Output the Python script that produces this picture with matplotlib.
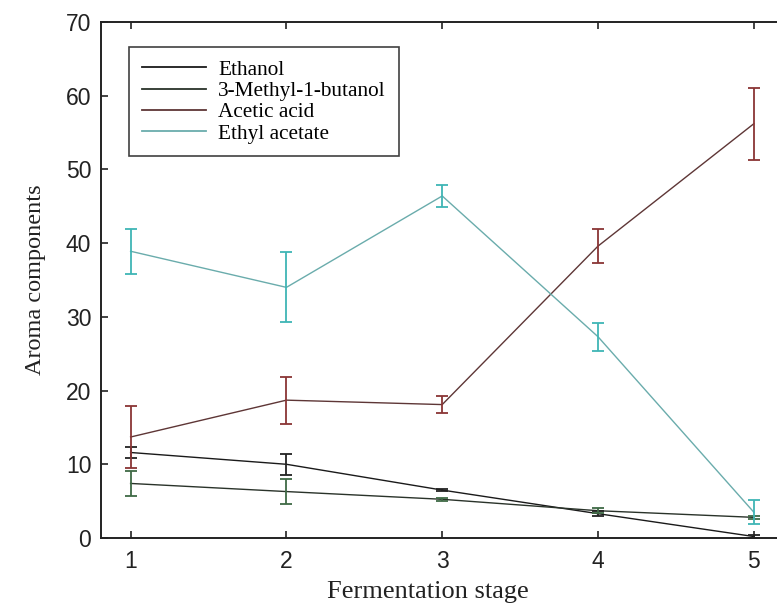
import matplotlib
matplotlib.use("Agg")
import matplotlib.pyplot as plt
import numpy as np

stages = [1, 2, 3, 4, 5]
series_names = ["Ethanol", "3-Methyl-1-butanol", "Acetic acid", "Ethyl acetate"]

ethanol = [11.6, 10.0, 6.5, 3.3, 0.2]
ethanol_err = [0.7, 1.4, 0.15, 0.3, 0.2]
methylbutanol = [7.4, 6.3, 5.25, 3.7, 2.8]
methylbutanol_err = [1.75, 1.65, 0.2, 0.35, 0.2]
acetic = [13.7, 18.7, 18.1, 39.6, 56.2]
acetic_err = [4.2, 3.2, 1.1, 2.3, 4.9]
ethyl_acetate = [38.9, 34.0, 46.4, 27.3, 3.5]
ethyl_acetate_err = [3.05, 4.75, 1.5, 1.9, 1.6]

values = [ethanol, methylbutanol, acetic, ethyl_acetate]
errors = [ethanol_err, methylbutanol_err, acetic_err, ethyl_acetate_err]
line_colors = ["#1a1a1a", "#2a332a", "#5e3636", "#6aacac"]
err_colors = ["#222222", "#3f6a45", "#8a3535", "#3fb5b5"]

W, H = 777, 612
fig = plt.figure(figsize=(W / 100, H / 100), dpi=100)
ax = fig.add_axes([101 / W, 74 / H, 684 / W, 516 / H])

for name, v, e, lc, ec in zip(series_names, values, errors, line_colors, err_colors):
    ax.plot(stages, v, color=lc, lw=1.0, label=name, zorder=2)
    ax.errorbar(stages, v, yerr=e, fmt="none", ecolor=ec, elinewidth=1.3,
                capsize=4.3, capthick=1.3, zorder=3)

ax.set_xlim(0.81, 5.2)
ax.set_ylim(0, 70)
ax.set_xticks(stages)
ax.set_yticks(np.arange(0, 71, 10))

for lab in ax.get_xticklabels() + ax.get_yticklabels():
    lab.set_fontfamily("Liberation Sans")
    lab.set_fontsize(16.5)
    lab.set_color("#222222")

ax.tick_params(direction="in", length=5, width=1.2, top=True, right=False,
               colors="#222222")
ax.tick_params(axis="x", pad=9)
ax.tick_params(axis="y", pad=7)
for s in ax.spines.values():
    s.set_linewidth(1.4)
    s.set_color("#222222")

ax.set_xlabel("Fermentation stage", fontfamily="Liberation Serif", fontsize=19,
              color="#222222")
ax.xaxis.set_label_coords((428 - 101) / 684, -43 / 516)
ax.set_ylabel("Aroma components", fontfamily="Liberation Serif", fontsize=17.5,
              labelpad=14, color="#222222")

leg = ax.legend(loc="upper left", bbox_to_anchor=(28 / 684, 1 - 25 / 516),
                prop={"family": "Liberation Serif", "size": 15.3},
                frameon=True, fancybox=False, edgecolor="#111111",
                handlelength=3.0, handletextpad=0.6, labelspacing=0.07,
                borderpad=0.6, borderaxespad=0)
leg.get_frame().set_linewidth(1.2)
for l in leg.get_lines():
    l.set_linewidth(1.3)

fig.savefig("out.png", dpi=100)
